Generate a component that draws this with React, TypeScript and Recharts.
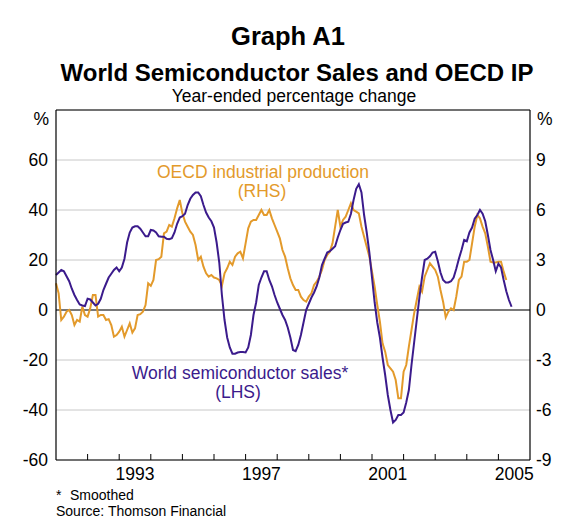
import { ComposedChart, Line, XAxis, YAxis, CartesianGrid, ReferenceLine } from "recharts";

// monthly, starting Jan 1991
const START_YEAR = 1991;

// World semiconductor sales, year-ended % change, smoothed (LHS)
const SEMI = [
  14, 15, 16, 15.5, 13.5, 11.5, 8.5, 6, 4, 2.2, 1.8, 1.6,
  4.5, 4.2, 3, 1.8, 2.5, 4.5, 8, 10.5, 13, 14.5, 16, 17,
  15.5, 17, 20.5, 27, 31, 33, 33.5, 33.5, 32.5, 31, 29.5, 29.5,
  32, 31.8, 31, 29.5, 29.3, 29.3, 28.5, 28.3, 28.7, 31, 34.5, 37,
  37.5, 38.5, 42, 44.5, 46, 47, 47, 45.5, 42, 39, 37, 35.5,
  33, 27, 19, 6, -4, -11, -15, -17.5, -17.5, -17, -16.8, -16.8,
  -17, -15, -10, -2, 3, 10, 13, 15.5, 15.5, 12, 9.5, 6,
  3, 0.5, -2, -4, -7, -11, -16, -16.5, -14, -10, -5, 0,
  2.5, 5, 7, 9.5, 13, 18, 20.5, 23, 23.5, 24.5, 25.5, 29,
  32, 34.5, 35, 35.3, 38.5, 44, 48.5, 50.3, 47, 38, 31, 23,
  13, 3, -5, -11, -19, -26, -34, -40, -45, -44, -42, -42,
  -41, -37, -32, -22, -13, -4, 5, 13, 20, 20.5, 21.5, 23,
  23.3, 19.5, 15, 12, 11, 11, 11.5, 13, 16.5, 20.5, 24, 28,
  27.5, 31, 33, 36.5, 38, 40, 38.5, 35.5, 30, 24, 20, 15.5,
  18.5, 17, 12, 7.5, 4, 1.3,
];

// OECD industrial production, year-ended % change (RHS)
const OECD_IP = [
  1.6, 1.0, -0.6, -0.4, -0.1, 0, -0.3, -0.9, -0.6, -0.7, 0.2, -0.3,
  -0.4, 0.1, 0.9, 0.9, -0.4, -0.3, -0.3, -0.6, -0.55, -0.9, -1.6, -1.5,
  -1.3, -1.0, -1.6, -1.2, -0.8, -1.35, -1.1, -0.3, -0.25, -0.1, 0.3, 1.6,
  1.45, 1.8, 3.0, 3.05, 3.2, 4.6, 4.7, 5.1, 5.0, 5.5, 6.1, 6.6,
  5.8, 5.3, 5.0, 4.7, 4.5, 3.9, 3.0, 3.2, 2.6, 2.2, 2.0, 2.1,
  1.95, 1.9, 1.8, 1.45, 2.2, 2.5, 2.9, 2.7, 3.2, 3.4, 3.5, 3.1,
  4.0, 4.9, 5.3, 5.4, 5.4, 5.7, 6.0, 5.7, 5.7, 6.0, 5.5, 5.1,
  4.7, 4.3, 3.6, 3.2, 2.5, 1.9, 1.5, 1.2, 1.2, 0.8, 0.6, 0.5,
  0.8, 1.0, 1.5, 1.7, 2.0, 2.4, 3.0, 3.3, 3.5, 4.0, 5.0, 6.0,
  5.0, 5.4, 5.6, 6.0, 6.4, 6.0, 5.9, 5.8, 5.0, 4.4, 3.8, 3.2,
  2.3, 1.4, 0.3, -0.7, -2.0, -2.5, -3.3, -3.5, -3.7, -4.2, -5.3, -5.3,
  -3.7, -3.3, -2.2, -1.2, -0.2, 0.6, 1.4, 1.1, 2.0, 2.4, 2.8, 2.6,
  2.4, 2.0, 1.2, 0.5, -0.44, -0.1, 0.1, 0, 0.8, 1.8, 2.0, 2.9,
  2.9, 3.0, 4.0, 5.0, 5.7, 5.5, 5.0, 4.6, 3.8, 2.9, 2.85, 2.85,
  2.9, 2.9, 2.3, 1.8,
];

const YEAR_TICKS = [1992, 1993, 1994, 1995, 1996, 1997, 1998, 1999, 2000, 2001, 2002, 2003, 2004, 2005];
const YEAR_LABELS = [1993, 1997, 2001, 2005];
const LEFT_TICKS = [-60, -40, -20, 0, 20, 40, 60];
const RIGHT_TICKS = [-9, -6, -3, 0, 3, 6, 9];

const PURPLE = "#3b1b8c";
const ORANGE = "#e39a2b";
const FONT = "'Liberation Sans', Arial, Helvetica, sans-serif";
const TXT = 17.5;

const W = 563;
const H = 527;
const PLOT_LEFT = 56;
const PLOT_RIGHT = 530;
const PLOT_TOP = 110;
const PLOT_BOTTOM = 460;
const HALF_YEAR = (PLOT_RIGHT - PLOT_LEFT) / 15 / 2;

const rows = SEMI.map((v, i) => ({
  t: START_YEAR + i / 12,
  semi: v,
  ip: i < OECD_IP.length ? OECD_IP[i] : null,
}));

const YearTick = (props: any) => {
  const { x, y, payload } = props;
  const show = YEAR_LABELS.includes(payload.value);
  return (
    <g>
      <line x1={x} x2={x} y1={y} y2={y - 6} stroke="#000" strokeWidth={1} />
      {show && (
        <text x={x + HALF_YEAR} y={y + 20} textAnchor="middle" fontSize={TXT} fontFamily={FONT} fill="#000">
          {payload.value}
        </text>
      )}
    </g>
  );
};

export default function App() {
  return (
    <div style={{ position: "relative", width: W, height: H, background: "#fff" }}>
      <style>{`body{margin:0}`}</style>
      <ComposedChart
        width={W}
        height={H}
        data={rows}
        margin={{ top: PLOT_TOP, right: 0, bottom: H - PLOT_BOTTOM - 30, left: 0 }}
      >
        <CartesianGrid horizontal vertical={false} stroke="#c8c8c8" yAxisId="left" />
        <XAxis
          dataKey="t"
          type="number"
          domain={[1991, 2006]}
          ticks={YEAR_TICKS}
          interval={0}
          height={30}
          tickSize={0}
          tickMargin={0}
          tickLine={false}
          axisLine={{ stroke: "#000", strokeWidth: 1.2 }}
          tick={<YearTick />}
        />
        <YAxis
          yAxisId="left"
          domain={[-60, 80]}
          ticks={LEFT_TICKS}
          interval={0}
          width={PLOT_LEFT}
          tickSize={0}
          tickMargin={8}
          tickLine={false}
          axisLine={{ stroke: "#000", strokeWidth: 1.2 }}
          tick={{ fill: "#000", fontSize: TXT, fontFamily: FONT }}
        />
        <YAxis
          yAxisId="right"
          orientation="right"
          domain={[-9, 12]}
          ticks={RIGHT_TICKS}
          interval={0}
          width={W - PLOT_RIGHT}
          tickSize={0}
          tickMargin={6}
          tickLine={false}
          axisLine={{ stroke: "#000", strokeWidth: 1.2 }}
          tick={{ fill: "#000", fontSize: TXT, fontFamily: FONT, textAnchor: "start" }}
        />
        <ReferenceLine yAxisId="left" y={0} stroke="#555" strokeWidth={1.5} />
        <ReferenceLine yAxisId="left" y={80} stroke="#000" strokeWidth={1.2} />
        <Line
          yAxisId="right"
          dataKey="ip"
          type="linear"
          stroke={ORANGE}
          strokeWidth={2}
          dot={false}
          connectNulls={false}
          isAnimationActive={false}
        />
        <Line
          yAxisId="left"
          dataKey="semi"
          type="linear"
          stroke={PURPLE}
          strokeWidth={2}
          dot={false}
          isAnimationActive={false}
        />
      </ComposedChart>
      <svg
        width={W}
        height={H}
        style={{ position: "absolute", left: 0, top: 0, pointerEvents: "none" }}
        fontFamily={FONT}
      >
        <text x={288} y={45} textAnchor="middle" fontSize={25.5} fontWeight="bold">Graph A1</text>
        <text x={297} y={81} textAnchor="middle" fontSize={24} fontWeight="bold">
          World Semiconductor Sales and OECD IP
        </text>
        <text x={294} y={102} textAnchor="middle" fontSize={TXT}>Year-ended percentage change</text>
        <text x={49} y={125} textAnchor="end" fontSize={TXT}>%</text>
        <text x={537} y={125} textAnchor="start" fontSize={TXT}>%</text>
        <text x={263} y={178} textAnchor="middle" fontSize={TXT} fill={ORANGE}>OECD industrial production</text>
        <text x={262} y={197} textAnchor="middle" fontSize={TXT} fill={ORANGE}>(RHS)</text>
        <text x={240} y={379} textAnchor="middle" fontSize={TXT} fill={PURPLE}>World semiconductor sales*</text>
        <text x={238} y={398} textAnchor="middle" fontSize={TXT} fill={PURPLE}>(LHS)</text>
        <text x={56} y={500} fontSize={14}>*</text>
        <text x={70} y={500} fontSize={14}>Smoothed</text>
        <text x={56} y={516} fontSize={14}>Source: Thomson Financial</text>
      </svg>
    </div>
  );
}
